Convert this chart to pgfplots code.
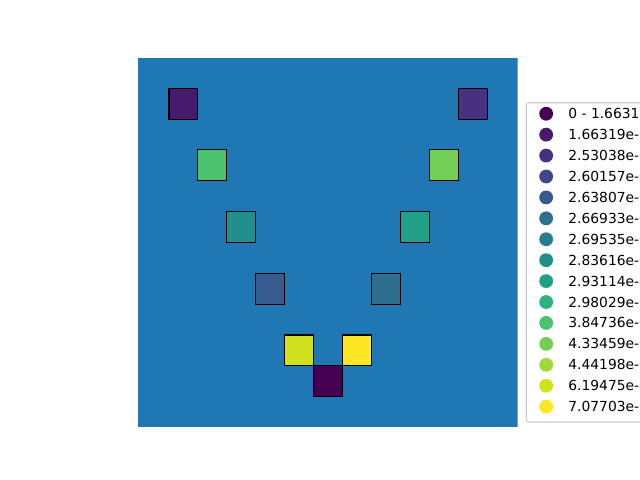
\documentclass[border=0pt]{standalone}
\usepackage{pgfplots}
\pgfplotsset{compat=1.18}
\usepackage{fontspec}
\setmainfont{DejaVu Sans}
\definecolor{bg}{HTML}{1F77B4}
\definecolor{v0}{HTML}{440154}
\definecolor{v1}{HTML}{481A6C}
\definecolor{v2}{HTML}{46327E}
\definecolor{v3}{HTML}{3F4788}
\definecolor{v4}{HTML}{365B8C}
\definecolor{v5}{HTML}{2E6E8E}
\definecolor{v6}{HTML}{277F8E}
\definecolor{v7}{HTML}{21908C}
\definecolor{v8}{HTML}{20A187}
\definecolor{v9}{HTML}{2DB27D}
\definecolor{v10}{HTML}{4BC26D}
\definecolor{v11}{HTML}{73CF55}
\definecolor{v12}{HTML}{A0DA39}
\definecolor{v13}{HTML}{D0E11E}
\definecolor{v14}{HTML}{FDE725}
\begin{document}
\begin{tikzpicture}
\useasboundingbox (0,0) rectangle (6.4in,4.8in);
\clip (0,0) rectangle (6.4in,4.8in);
\begin{axis}[
  at={(1.377in,0.533in)}, anchor=south west,
  scale only axis, width=3.80in, height=3.687in,
  xmin=-1.08, xmax=12.04, ymin=-0.973, ymax=10.98,
  hide axis,
  legend cell align=left,
  legend image code/.code={\path[draw=none,fill=none] (-8.5pt,-8.2pt) rectangle (8.5pt,5pt); \fill[draw=none,#1] (0pt,0pt) circle (5pt);},
  legend style={at={(1.021,0.880)}, anchor=north west,
    draw=black!20, line width=0.8pt, fill=white, rounded corners=2pt,
    inner xsep=5.9pt, inner ysep=2.9pt, row sep=1.92pt, column sep=7.6pt,
    font=\fontsize{10}{12}\selectfont,
    nodes={inner sep=0pt, text height=7.3pt, text depth=0pt}},
]
\addplot[fill=bg, draw=none, forget plot] coordinates {(-1.08,-0.973) (12.04,-0.973) (12.04,10.98) (-1.08,10.98)} -- cycle;
\pgfplotsset{sq/.style={draw=black, line width=0.75pt, line join=miter, forget plot}}
\addplot[sq, fill=v1]  coordinates {(0,9) (1,9) (1,10) (0,10)} -- cycle;
\addplot[sq, fill=v2]  coordinates {(10,9) (11,9) (11,10) (10,10)} -- cycle;
\addplot[sq, fill=v10] coordinates {(1,7) (2,7) (2,8) (1,8)} -- cycle;
\addplot[sq, fill=v11] coordinates {(9,7) (10,7) (10,8) (9,8)} -- cycle;
\addplot[sq, fill=v7]  coordinates {(2,5) (3,5) (3,6) (2,6)} -- cycle;
\addplot[sq, fill=v8]  coordinates {(8,5) (9,5) (9,6) (8,6)} -- cycle;
\addplot[sq, fill=v4]  coordinates {(3,3) (4,3) (4,4) (3,4)} -- cycle;
\addplot[sq, fill=v5]  coordinates {(7,3) (8,3) (8,4) (7,4)} -- cycle;
\addplot[sq, fill=v13] coordinates {(4,1) (5,1) (5,2) (4,2)} -- cycle;
\addplot[sq, fill=v14] coordinates {(6,1) (7,1) (7,2) (6,2)} -- cycle;
\addplot[sq, fill=v0]  coordinates {(5,0) (6,0) (6,1) (5,1)} -- cycle;
\addlegendimage{v0}\addlegendentry{0 - 1.66319e-05}
\addlegendimage{v1}\addlegendentry{1.66319e-05 - 2.53038e-05}
\addlegendimage{v2}\addlegendentry{2.53038e-05 - 2.60157e-05}
\addlegendimage{v3}\addlegendentry{2.60157e-05 - 2.63807e-05}
\addlegendimage{v4}\addlegendentry{2.63807e-05 - 2.66933e-05}
\addlegendimage{v5}\addlegendentry{2.66933e-05 - 2.69535e-05}
\addlegendimage{v6}\addlegendentry{2.69535e-05 - 2.83616e-05}
\addlegendimage{v7}\addlegendentry{2.83616e-05 - 2.93114e-05}
\addlegendimage{v8}\addlegendentry{2.93114e-05 - 2.98029e-05}
\addlegendimage{v9}\addlegendentry{2.98029e-05 - 3.84736e-05}
\addlegendimage{v10}\addlegendentry{3.84736e-05 - 4.33459e-05}
\addlegendimage{v11}\addlegendentry{4.33459e-05 - 4.44198e-05}
\addlegendimage{v12}\addlegendentry{4.44198e-05 - 6.19475e-05}
\addlegendimage{v13}\addlegendentry{6.19475e-05 - 7.07703e-05}
\addlegendimage{v14}\addlegendentry{7.07703e-05 - 1.00000e-04}
\end{axis}
\end{tikzpicture}
\end{document}
